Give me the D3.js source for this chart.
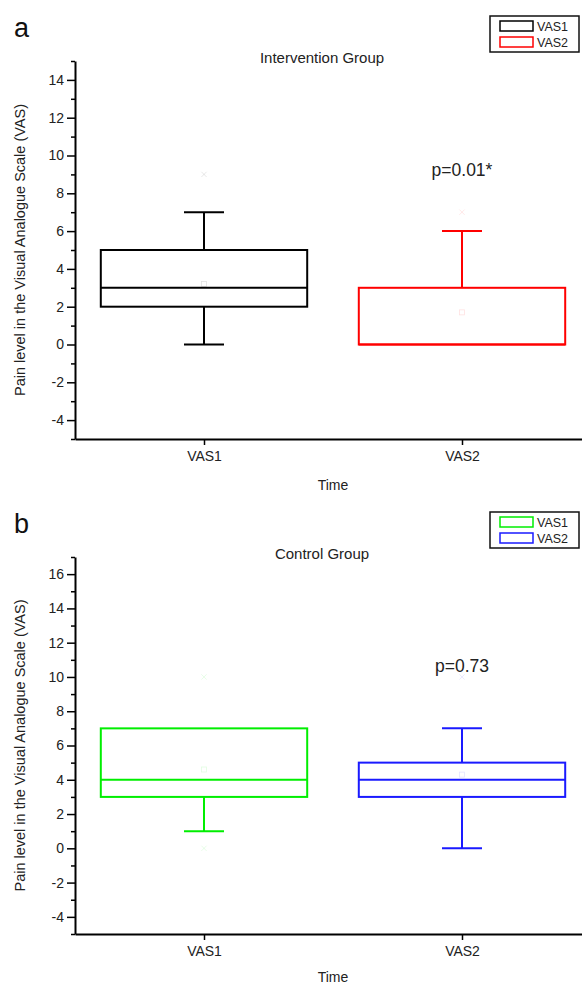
<!DOCTYPE html>
<html>
<head>
<meta charset="utf-8">
<script src="https://cdn.jsdelivr.net/npm/d3@7"></script>
<style>
  body { margin: 0; background: #fff; }
  text { font-family: "Liberation Sans", Arial, sans-serif; }
</style>
</head>
<body>
<svg width="582" height="986"></svg>
<script>
// categories and labels
const categories = ["VAS1", "VAS2"];
const panelLetters = ["a", "b"];
const groupTitles = ["Intervention Group", "Control Group"];
const pValues = ["p=0.01*", "p=0.73"];
const yDomains = [[-5, 15], [-5, 17]];
const yTicks = [[-4, -2, 0, 2, 4, 6, 8, 10, 12, 14], [-4, -2, 0, 2, 4, 6, 8, 10, 12, 14, 16]];

// intervention group box stats (VAS1, VAS2)
const intMin = [0, 0];
const intQ1 = [2, 0];
const intMedian = [3, 0];
const intQ3 = [5, 3];
const intMax = [7, 6];
const intMean = [3.2, 1.7];
const intOutlier = [9, 7];

// control group box stats (VAS1, VAS2)
const ctlMin = [1, 0];
const ctlQ1 = [3, 3];
const ctlMedian = [4, 4];
const ctlQ3 = [7, 5];
const ctlMax = [3, 7];
const ctlMean = [4.6, 4.3];
const ctlOutlier = [10, 10];
const ctlLowOutlier = [0, null];

const colors = [["#000000", "#ff0000"], ["#00ee00", "#1a1aff"]];

const svg = d3.select("svg");

function boxData(min, q1, med, q3, max, mean, out, low) {
    return categories.map((c, i) => ({
        cat: c, min: min[i], q1: q1[i], med: med[i], q3: q3[i],
        max: Math.max(max[i], q3[i]), mean: mean[i], out: out[i],
        low: low ? low[i] : null
    }));
}

const panels = [
    { top: 61, bottom: 439, timeY: 51, data: boxData(intMin, intQ1, intMedian, intQ3, intMax, intMean, intOutlier) },
    { top: 557, bottom: 934, timeY: 48, data: boxData(ctlMin, ctlQ1, ctlMedian, ctlQ3, ctlMax, ctlMean, ctlOutlier, ctlLowOutlier) }
];

panels.forEach((p, pi) => {
    const g = svg.append("g");
    const x = d3.scalePoint(categories, [75, 591]).padding(0.5);
    const y = d3.scaleLinear(yDomains[pi], [p.bottom, p.top]);
    const boxW = x.step() * 0.8;
    const capW = 40;

    // minor ticks
    const minor = d3.range(yDomains[pi][0], yDomains[pi][1] + 1).filter(v => v % 2 !== 0);
    g.append("g")
        .attr("transform", "translate(75,0)")
        .call(d3.axisLeft(y).tickValues(minor).tickSize(4).tickFormat("").tickSizeOuter(0))
        .call(a => a.select(".domain").remove())
        .call(a => a.selectAll("line").attr("stroke-width", 1.5));

    const yAxis = g.append("g")
        .attr("transform", "translate(75,0)")
        .call(d3.axisLeft(y).tickValues(yTicks[pi]).tickSize(8).tickSizeOuter(0).tickPadding(3)
            .tickFormat(d => String(d)));
    yAxis.select(".domain").attr("stroke-width", 2);
    yAxis.selectAll("line").attr("stroke-width", 1.5);
    yAxis.selectAll("text").attr("font-size", 14).attr("fill", "#222");

    const xAxis = g.append("g")
        .attr("transform", `translate(0,${p.bottom})`)
        .call(d3.axisBottom(x).tickSize(6).tickSizeOuter(0).tickPadding(6));
    xAxis.select(".domain").attr("stroke-width", 2);
    xAxis.selectAll("line").attr("stroke-width", 1.5);
    xAxis.selectAll("text").attr("font-size", 14).attr("fill", "#222");

    // axis titles
    g.append("text")
        .attr("x", 333).attr("y", p.bottom + p.timeY)
        .attr("text-anchor", "middle").attr("font-size", 14).attr("fill", "#222")
        .text("Time");
    g.append("text")
        .attr("transform", `translate(25,${(p.top + p.bottom) / 2}) rotate(-90)`)
        .attr("text-anchor", "middle").attr("font-size", 14.5).attr("fill", "#222")
        .text("Pain level in the Visual Analogue Scale (VAS)");

    g.append("text")
        .attr("x", 322).attr("y", p.top + 2)
        .attr("text-anchor", "middle").attr("font-size", 15).attr("fill", "#222")
        .text(groupTitles[pi]);

    g.append("text")
        .attr("x", 14).attr("y", p.top - 24)
        .attr("font-size", 27).attr("fill", "#111")
        .text(panelLetters[pi]);

    g.append("text")
        .attr("x", x("VAS2")).attr("y", pi === 0 ? y(8.9) : y(10.3))
        .attr("text-anchor", "middle").attr("font-size", 17.5).attr("fill", "#222")
        .text(pValues[pi]);

    // boxes
    const boxes = g.selectAll("g.box").data(p.data).join("g").attr("class", "box")
        .attr("stroke", (d, i) => colors[pi][i]).attr("stroke-width", 2).attr("fill", "none");

    boxes.append("line")
        .attr("x1", d => x(d.cat)).attr("x2", d => x(d.cat))
        .attr("y1", d => y(d.q3)).attr("y2", d => y(d.max));
    boxes.append("line")
        .attr("x1", d => x(d.cat)).attr("x2", d => x(d.cat))
        .attr("y1", d => y(d.q1)).attr("y2", d => y(d.min));
    boxes.filter(d => d.max > d.q3).append("line")
        .attr("x1", d => x(d.cat) - capW / 2).attr("x2", d => x(d.cat) + capW / 2)
        .attr("y1", d => y(d.max)).attr("y2", d => y(d.max));
    boxes.filter(d => d.min < d.q1).append("line")
        .attr("x1", d => x(d.cat) - capW / 2).attr("x2", d => x(d.cat) + capW / 2)
        .attr("y1", d => y(d.min)).attr("y2", d => y(d.min));
    boxes.append("rect")
        .attr("x", d => x(d.cat) - boxW / 2).attr("width", boxW)
        .attr("y", d => y(d.q3)).attr("height", d => y(d.q1) - y(d.q3));
    boxes.append("line")
        .attr("x1", d => x(d.cat) - boxW / 2).attr("x2", d => x(d.cat) + boxW / 2)
        .attr("y1", d => y(d.med)).attr("y2", d => y(d.med));

    // faint mean squares and outlier crosses
    boxes.append("rect")
        .attr("stroke-width", 0.8).attr("stroke-opacity", 0.12)
        .attr("x", d => x(d.cat) - 2.5).attr("y", d => y(d.mean) - 2.5)
        .attr("width", 5).attr("height", 5);
    const cross = d3.symbol(d3.symbolX, 20);
    boxes.append("path")
        .attr("stroke-width", 0.8).attr("stroke-opacity", 0.12)
        .attr("transform", d => `translate(${x(d.cat)},${y(d.out)})`)
        .attr("d", cross);
    boxes.filter(d => d.low !== null).append("path")
        .attr("stroke-width", 0.8).attr("stroke-opacity", 0.12)
        .attr("transform", d => `translate(${x(d.cat)},${y(d.low)})`)
        .attr("d", cross);

    // legend
    const lg = g.append("g").attr("transform", `translate(490,${p.top - 45})`);
    lg.append("rect").attr("width", 89).attr("height", 36)
        .attr("fill", "#fff").attr("stroke", "#111").attr("stroke-width", 1.5);
    categories.forEach((c, i) => {
        lg.append("rect")
            .attr("x", 10).attr("y", 5 + i * 16).attr("width", 33).attr("height", 10)
            .attr("fill", "none").attr("stroke", colors[pi][i]).attr("stroke-width", 1.5);
        lg.append("text")
            .attr("x", 47).attr("y", 14.5 + i * 16)
            .attr("font-size", 12.5).attr("fill", "#222")
            .text(c);
    });
});
</script>
</body>
</html>
